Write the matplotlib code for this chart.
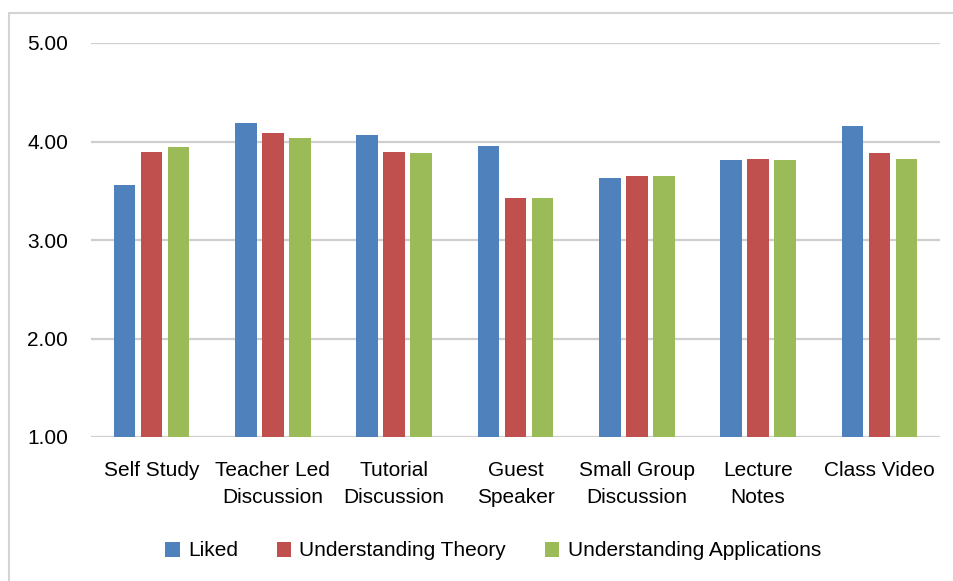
import numpy as np
import matplotlib
matplotlib.use("Agg")
from matplotlib import pyplot as plt
from matplotlib.patches import Rectangle

# data
categories = ["Self Study", "Teacher Led\nDiscussion", "Tutorial\nDiscussion", "Guest\nSpeaker",
              "Small Group\nDiscussion", "Lecture\nNotes", "Class Video"]
liked = [3.56, 4.19, 4.07, 3.95, 3.63, 3.81, 4.16]
theory = [3.89, 4.09, 3.89, 3.43, 3.65, 3.82, 3.88]
applications = [3.94, 4.04, 3.88, 3.43, 3.65, 3.81, 3.82]
series_names = ["Liked", "Understanding Theory", "Understanding Applications"]
colors = ["#4F81BD", "#C0504D", "#9BBB59"]
yticks = [1.0, 2.0, 3.0, 4.0, 5.0]

plt.rcParams['font.family'] = ['Liberation Sans', 'DejaVu Sans']

fig = plt.figure(figsize=(9.54, 5.81), dpi=100)
ax = fig.add_axes([91/954, 1-437/581, (940-91)/954, (437-43)/581])

x = np.arange(len(categories))
w = 0.178
off = 0.223
for i, vals in enumerate([liked, theory, applications]):
    ax.bar(x + (i-1)*off, np.array(vals) - 1.0, w, bottom=1.0, color=colors[i],
           label=series_names[i], zorder=3)

ax.set_xlim(-0.5, len(categories)-0.5)
ax.set_ylim(1, 5)
ax.set_yticks(yticks)
ax.set_yticklabels([f"{v:.2f}" for v in yticks], fontsize=15)
ax.set_xticks(x)
ax.set_xticklabels(categories, fontsize=15, linespacing=1.55)
ax.tick_params(axis='both', length=0)
ax.tick_params(axis='y', pad=16.5)
ax.tick_params(axis='x', pad=17)
ax.grid(axis='y', color='#CFCFCF', linewidth=1.6, zorder=0)
for s in ax.spines.values():
    s.set_visible(False)

ax.legend(loc='center', bbox_to_anchor=(493/954, (581-551)/581), bbox_transform=fig.transFigure,
          ncol=3, frameon=False, fontsize=15, handlelength=0.7, handleheight=0.7,
          handletextpad=0.4, columnspacing=1.85)

# chart frame: only top and left edges are visible in the crop
fig.patches.append(Rectangle((9/954, -0.05), 1.0, 1-13/581 + 0.05, transform=fig.transFigure,
                             fill=False, edgecolor='#D4D4D4', linewidth=1.5))

fig.savefig("out.png", dpi=100)
